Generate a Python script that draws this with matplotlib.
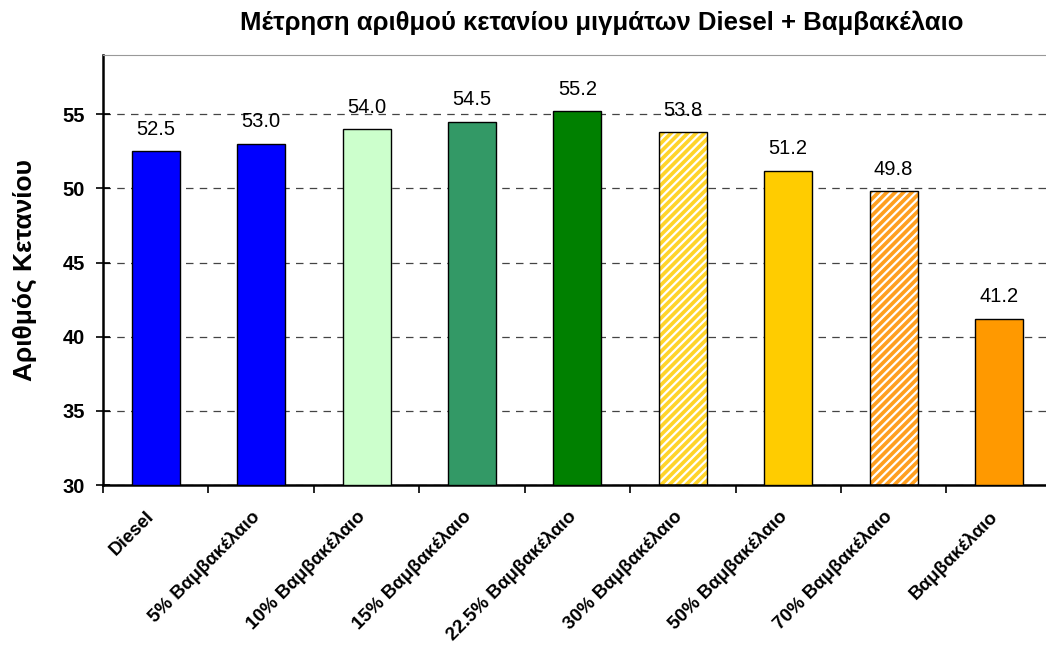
import matplotlib.pyplot as plt
import matplotlib.transforms as mtransforms
import numpy as np

plt.rcParams['font.family'] = ['Liberation Sans', 'DejaVu Sans']
plt.rcParams['hatch.linewidth'] = 1.6

# data
categories = ['Diesel', '5% Βαμβακέλαιο', '10% Βαμβακέλαιο', '15% Βαμβακέλαιο',
              '22.5% Βαμβακέλαιο', '30% Βαμβακέλαιο', '50% Βαμβακέλαιο',
              '70% Βαμβακέλαιο', 'Βαμβακέλαιο']
values = [52.5, 53.0, 54.0, 54.5, 55.2, 53.8, 51.2, 49.8, 41.2]
colors = ['#0000FF', '#0000FF', '#CCFFCC', '#339966', '#008000',
          '#FFD42A', '#FFCC00', '#FF9F20', '#FF9900']
hatched = [False, False, False, False, False, True, False, True, False]

fig = plt.figure(figsize=(10.46, 6.46), dpi=100)
ax = fig.add_axes([0.0985, 0.249, 0.907, 0.666])

x = np.arange(len(categories))
bottom = 30
w = 0.455
for i, (v, c, h) in enumerate(zip(values, colors, hatched)):
    if h:
        ax.bar(x[i], v - bottom, w, bottom=bottom, color=c, edgecolor='white',
               hatch='////', linewidth=0, zorder=2)
        ax.bar(x[i], v - bottom, w, bottom=bottom, facecolor='none',
               edgecolor='black', linewidth=1.0, zorder=3)
    else:
        ax.bar(x[i], v - bottom, w, bottom=bottom, color=c,
               edgecolor='black', linewidth=1.0, zorder=3)
    ax.annotate(f'{v:.1f}', (x[i], v), xytext=(0, 9), textcoords='offset points',
                ha='center', va='bottom', fontsize=14.5)

ax.set_xlim(-0.5, len(categories) - 0.5)
ax.set_ylim(30, 59)
ax.set_yticks([30, 35, 40, 45, 50, 55])
ax.tick_params(axis='y', direction='inout', length=10, width=1.2, labelsize=14.5, pad=8)
for lbl in ax.get_yticklabels():
    lbl.set_fontweight('bold')

ax.set_xticks(np.arange(-0.5, len(categories), 1.0))
ax.set_xticklabels([])
ax.tick_params(axis='x', which='major', direction='out', length=6, width=1.2)
ax.set_xticks(x, minor=True)
ax.set_xticklabels(categories, minor=True, rotation=45, ha='right',
                   rotation_mode='anchor', fontsize=13.5, fontweight='bold')
ax.tick_params(axis='x', which='minor', length=0, pad=16)
shift = mtransforms.ScaledTranslation(-0.1, 0, fig.dpi_scale_trans)
for lbl in ax.get_xticklabels(minor=True):
    lbl.set_transform(lbl.get_transform() + shift)

ax.yaxis.grid(True, linestyle=(0, (6, 5)), color='#444444', linewidth=0.9, zorder=0)
ax.set_axisbelow(True)

ax.spines['left'].set_linewidth(1.8)
ax.spines['bottom'].set_linewidth(1.8)
ax.spines['top'].set_color('#999999')
ax.spines['right'].set_visible(False)

ax.set_ylabel('Αριθμός Κετανίου', fontsize=19, fontweight='bold', labelpad=18)
fig.text(0.575, 0.965, 'Μέτρηση αριθμού κετανίου μιγμάτων Diesel + Βαμβακέλαιο',
         ha='center', va='center', fontsize=18.5, fontweight='bold')

fig.savefig('out.png', dpi=100)
